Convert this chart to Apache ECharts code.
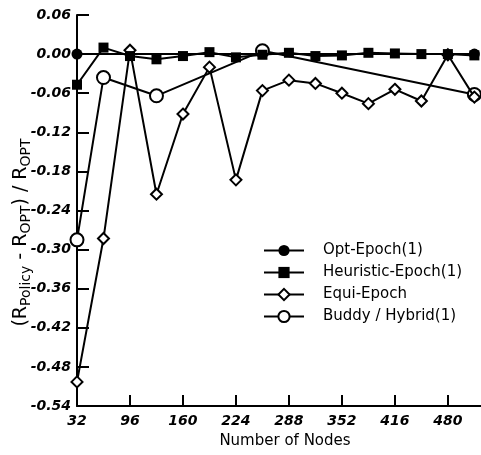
<!DOCTYPE html>
<html>
<head>
<meta charset="utf-8">
<script src="https://cdn.jsdelivr.net/npm/echarts@6/dist/echarts.min.js"></script>
<style>
  html, body { margin: 0; padding: 0; background: #fff; }
</style>
</head>
<body>
<div id="chart" style="width:481px;height:455px;"></div>
<script>
// x positions (number of nodes)
var nodes = [32, 64, 96, 128, 160, 192, 224, 256, 288, 320, 352, 384, 416, 448, 480, 512];
var xTicks = [32, 96, 160, 224, 288, 352, 416, 480];

// relative difference to optimal
var optNodes = [32, 512];
var optEpoch = [0.0, 0.0];
var heuristicEpoch = [-0.047, 0.010, -0.003, -0.008, -0.003, 0.003, -0.005, -0.001, 0.002, -0.003, -0.002, 0.002, 0.001, 0.000, 0.000, -0.002];
var equiEpoch = [-0.503, -0.283, 0.006, -0.215, -0.092, -0.020, -0.193, -0.056, -0.040, -0.045, -0.060, -0.076, -0.054, -0.072, -0.001, -0.066];
var buddyNodes = [32, 64, 128, 256, 512];
var buddyHybrid = [-0.285, -0.036, -0.064, 0.005, -0.062];

function pairs(xs, ys) {
  return xs.map(function (x, i) { return [x, ys[i]]; });
}

var font = "DejaVu Sans";
var chart = echarts.init(document.getElementById("chart"));

chart.setOption({
  animation: false,
  backgroundColor: "#fff",
  grid: { left: 77, right: 0, top: 15, bottom: 49, outerBoundsMode: "none" },
  legend: {
    orient: "vertical",
    left: 258,
    top: 238,
    itemWidth: 40,
    itemHeight: 14,
    itemGap: 7,
    data: ["Opt-Epoch(1)", "Heuristic-Epoch(1)", "Equi-Epoch", "Buddy / Hybrid(1)"],
    textStyle: { fontFamily: font, fontSize: 15, color: "#000", padding: [0, 0, 0, 14] }
  },
  xAxis: {
    type: "value",
    min: 32,
    max: 520,
    interval: 64,
    name: "Number of Nodes",
    nameLocation: "middle",
    nameGap: 28,
    nameMoveOverlap: false,
    nameTextStyle: { fontFamily: font, fontSize: 15, color: "#000", padding: [0, 0, 0, 12] },
    axisLine: { onZero: false, lineStyle: { color: "#000", width: 2 } },
    axisTick: { inside: true, length: 11, lineStyle: { color: "#000", width: 2 }, customValues: xTicks },
    axisLabel: {
      customValues: xTicks,
      margin: 8,
      fontFamily: font, fontSize: 14, fontWeight: "bold", fontStyle: "italic", color: "#000"
    },
    splitLine: { show: false }
  },
  yAxis: {
    type: "value",
    min: -0.54,
    max: 0.06,
    interval: 0.06,
    name: "{a|(R}{s|Policy}{a| - R}{s|OPT}{a|) / R}{s|OPT}",
    nameLocation: "middle",
    nameGap: 43,
    nameMoveOverlap: false,
    nameTextStyle: {
      color: "#000",
      padding: [0, 44, 0, 0],
      rich: {
        a: { fontFamily: font, fontSize: 19, color: "#000", lineHeight: 26 },
        s: { fontFamily: font, fontSize: 14, color: "#000", lineHeight: 26, padding: [11, 0, 0, 0] }
      }
    },
    axisLine: { onZero: false, lineStyle: { color: "#000", width: 2 } },
    axisTick: { inside: true, length: 12, lineStyle: { color: "#000", width: 2 } },
    axisLabel: {
      margin: 6,
      fontFamily: font, fontSize: 14, fontWeight: "bold", fontStyle: "italic", color: "#000",
      formatter: function (v) { return Math.abs(v) < 1e-9 ? "0.00" : v.toFixed(2); }
    },
    splitLine: { show: false }
  },
  series: [
    {
      name: "Buddy / Hybrid(1)",
      type: "line",
      z: 1,
      data: pairs(buddyNodes, buddyHybrid),
      symbol: "emptyCircle",
      symbolSize: 13,
      lineStyle: { color: "#000", width: 2 },
      itemStyle: { color: "#000", borderColor: "#000", borderWidth: 1 }
    },
    {
      name: "Equi-Epoch",
      type: "line",
      z: 2,
      data: pairs(nodes, equiEpoch),
      symbol: "emptyDiamond",
      symbolSize: 11,
      lineStyle: { color: "#000", width: 2 },
      itemStyle: { color: "#000", borderColor: "#000", borderWidth: 1 }
    },
    {
      name: "Heuristic-Epoch(1)",
      type: "line",
      z: 3,
      data: pairs(nodes, heuristicEpoch),
      symbol: "rect",
      symbolSize: 10,
      lineStyle: { color: "#000", width: 2 },
      itemStyle: { color: "#000" }
    },
    {
      name: "Opt-Epoch(1)",
      type: "line",
      z: 4,
      data: pairs(optNodes, optEpoch),
      symbol: "circle",
      symbolSize: 11,
      lineStyle: { color: "#000", width: 2 },
      itemStyle: { color: "#000" }
    }
  ]
});
</script>
</body>
</html>
